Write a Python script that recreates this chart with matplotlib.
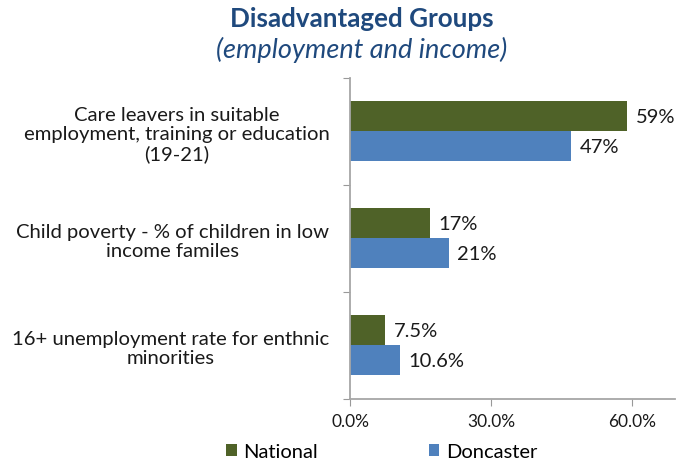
import numpy as np
import matplotlib.pyplot as plt

categories = ["Care leavers in suitable\nemployment, training or education\n(19-21)",
              "Child poverty - % of children in low\nincome familes",
              "16+ unemployment rate for enthnic\nminorities"]
national = [59, 17, 7.5]
doncaster = [47, 21, 10.6]
national_labels = ["59%", "17%", "7.5%"]
doncaster_labels = ["47%", "21%", "10.6%"]
xticks = [0, 30, 60]
xtick_labels = ["0.0%", "30.0%", "60.0%"]

green = "#4F6228"
blue = "#4F81BD"
title_col = "#1F497D"
txt = "#1a1a1a"

plt.rcParams['font.family'] = ['Lato', 'DejaVu Sans']

fig = plt.figure(figsize=(6.76, 4.64), dpi=100)
ax = fig.add_axes([0.518, 0.138, 0.481, 0.692])

y = np.arange(len(categories))  # 0 at top after inversion
h = 0.28
ax.barh(y - h / 2, national, height=h, color=green, label="National")
ax.barh(y + h / 2, doncaster, height=h, color=blue, label="Doncaster")

for i in range(len(categories)):
    ax.text(national[i] + 1.8, y[i] - h / 2, national_labels[i], va='center', ha='left',
            fontsize=14.5, color=txt)
    ax.text(doncaster[i] + 1.8, y[i] + h / 2, doncaster_labels[i], va='center', ha='left',
            fontsize=14.5, color=txt)

ax.set_xlim(0, 69.2)
ax.set_ylim(2.5, -0.5)

ax.set_xticks(xticks)
ax.set_xticklabels(xtick_labels, fontsize=12.5, color=txt)
ax.tick_params(axis='x', direction='out', length=5, color='#999999', pad=5)

ax.set_yticks([-0.5, 0.5, 1.5, 2.5])
ax.set_yticklabels([])
ax.set_yticks(y, minor=True)
ax.set_yticklabels(categories, minor=True, fontsize=14.6, color=txt,
                   multialignment='center', linespacing=1.15)
ax.tick_params(axis='y', which='major', direction='out', length=5, color='#999999')
ax.tick_params(axis='y', which='minor', length=0, pad=15)

for s in ['top', 'right']:
    ax.spines[s].set_visible(False)
ax.spines['left'].set_color('#A6A6A6')
ax.spines['bottom'].set_color('#A6A6A6')
ax.spines['left'].set_linewidth(1.3)
ax.spines['bottom'].set_linewidth(1.3)

fig.text(0.535, 0.96, "Disadvantaged Groups", ha='center', va='center',
         fontsize=18.7, fontweight='bold', color=title_col)
fig.text(0.535, 0.893, "(employment and income)", ha='center', va='center',
         fontsize=19.5, style='italic', color=title_col)

fig.legend(loc='center left', bbox_to_anchor=(0.335, 0.024), ncol=2, frameon=False,
           fontsize=14.5, handlelength=0.5, handleheight=0.5, handletextpad=0.35,
           columnspacing=5.5, borderaxespad=0, borderpad=0)

fig.savefig("out.png", dpi=100)
